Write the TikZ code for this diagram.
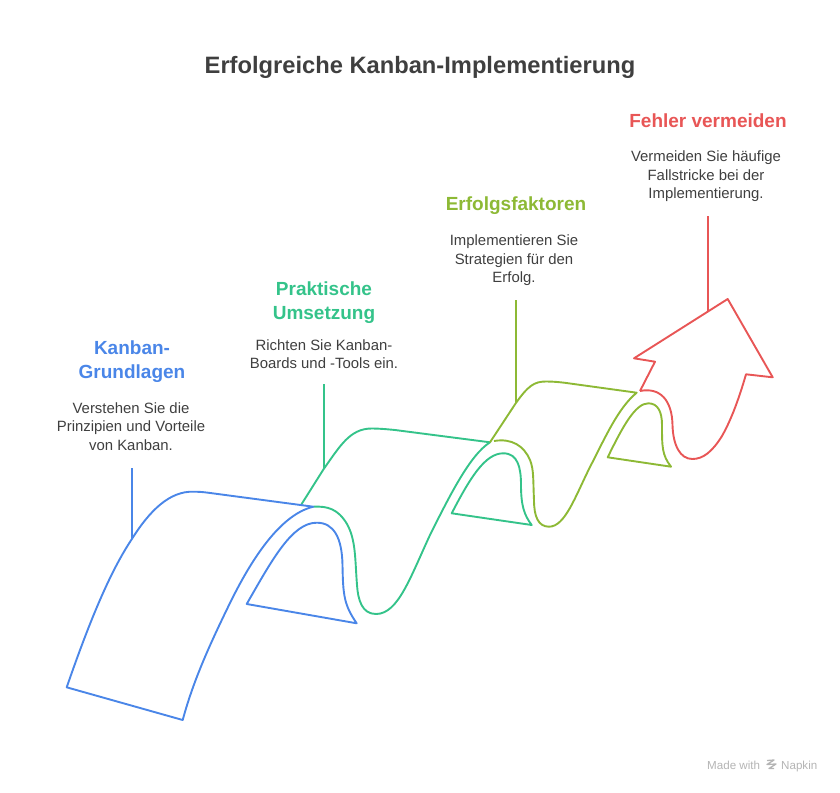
\documentclass[tikz,border=0pt]{standalone}
\usepackage{fontspec}
\setmainfont{Liberation Sans}
\definecolor{KanbanBlue}{HTML}{4A86E8}
\definecolor{PraxisGreen}{HTML}{34C38A}
\definecolor{ErfolgOlive}{HTML}{8DB935}
\definecolor{FehlerRed}{HTML}{E85656}
\definecolor{BodyGrey}{HTML}{3F3F3F}
\definecolor{MarkGrey}{HTML}{B4B4B4}
\begin{document}
\begin{tikzpicture}[x=1pt,y=-1pt,line join=round,
  ribbon/.style={line width=1.9pt},
  heading/.style={align=center,font=\fontsize{19}{24}\selectfont\bfseries,inner sep=0pt},
  blurb/.style={align=center,text=BodyGrey,font=\fontsize{14.9}{18.4}\selectfont,inner sep=0pt}]
\useasboundingbox (0,0) rectangle (840,792);
\node[inner sep=0pt,text=BodyGrey,font=\fontsize{23.7}{28}\selectfont\bfseries] (title) at (420,67) {Erfolgreiche Kanban-Implementierung};
%
\node[heading,text=KanbanBlue] (kanbanhead) at (132,362) {Kanban-\\Grundlagen};
\node[blurb] (kanbantext) at (131,426.5) {Verstehen Sie die\\Prinzipien und Vorteile\\von Kanban.};
\node[heading,text=PraxisGreen] (praxishead) at (324,302.5) {Praktische\\Umsetzung};
\node[blurb] (praxistext) at (324,354) {Richten Sie Kanban-\\Boards und -Tools ein.};
\node[heading,text=ErfolgOlive] (erfolghead) at (516,206) {Erfolgsfaktoren};
\node[blurb] (erfolgtext) at (514,260.5) {Implementieren Sie\\Strategien für den\\Erfolg.};
\node[heading,text=FehlerRed] (fehlerhead) at (708,121) {Fehler vermeiden};
\node[blurb] (fehlertext) at (706,176.5) {Vermeiden Sie häufige\\Fallstricke bei der\\Implementierung.};
%
\coordinate (kanbantop) at (131.7,468);
\coordinate (kanbanfoot) at (131.7,539.3);
\coordinate (praxistop) at (323.7,384);
\coordinate (praxisfoot) at (323.7,469);
\coordinate (erfolgtop) at (516,300);
\coordinate (erfolgfoot) at (516,403.3);
\coordinate (fehlertop) at (708,216);
\coordinate (fehlerfoot) at (708,310.5);
%
\draw[ribbon,KanbanBlue] (kanbantop) -- (kanbanfoot);
\draw[ribbon,PraxisGreen] (praxistop) -- (praxisfoot);
\draw[ribbon,ErfolgOlive] (erfolgtop) -- (erfolgfoot);
\draw[ribbon,FehlerRed] (fehlertop) -- (fehlerfoot);
%
\draw[ribbon,PraxisGreen] (300.7,505.5) -- (323.7,469) .. controls (340,446) and (350,428.5) .. (371.7,428.5) .. controls (378,428.5) and (385,429) .. (395,430) -- (490,442.3) .. controls (470,455) and (450,495) .. (430,535) .. controls (410,578) and (398,614) .. (376,614) .. controls (362,614) and (358,600) .. (357,585) .. controls (355,560) and (356,540) .. (347,524) .. controls (338,509) and (328,506) .. (313.3,506.7);
\draw[ribbon,PraxisGreen] (451.7,513.3) .. controls (470,478) and (485,453.3) .. (503.3,453.3) .. controls (518,453.3) and (521,468) .. (521,485) .. controls (521,505) and (524,515) .. (531.7,525) -- cycle;
%
\draw[ribbon,ErfolgOlive] (490,442.3) -- (515.7,403.3) .. controls (528,386) and (534,381.5) .. (546,381.5) .. controls (552,381.5) and (560,382) .. (570,383.5) -- (636.7,392.7) .. controls (618,408) and (605,438) .. (590,467) .. controls (575,497) and (565,526.7) .. (549,526.7) .. controls (538,526.7) and (534,516) .. (534,500) .. controls (533,480) and (534,470) .. (530,460) .. controls (524,446) and (512,438) .. (494,441);
\draw[ribbon,ErfolgOlive] (607.7,457.3) .. controls (622,428) and (635,403.3) .. (648.3,403.3) .. controls (658,403.3) and (662,412) .. (662,425) .. controls (662,447) and (662,455) .. (671,466.7) -- cycle;
%
\draw[ribbon,FehlerRed] (640,391) -- (655,361.7) -- (634,358.3) -- (727.7,299) -- (772.7,377.3) -- (746,374.3) .. controls (738,402) and (730,422) .. (722,436) .. controls (712,452) and (703,459) .. (692.3,459) .. controls (680,459) and (673,445) .. (672.5,425) .. controls (672,400) and (660,387) .. (640,391);
%
\draw[ribbon,KanbanBlue] (66.7,687.3) .. controls (90,620) and (110,572) .. (131.7,539.3) .. controls (150,510) and (170,491) .. (193.3,491.7) .. controls (198,491.7) and (203,492) .. (208,492.7) -- (313.3,506.7) .. controls (283,514) and (255,552) .. (230,603) .. controls (208,648) and (193,682) .. (182.7,720) -- cycle;
\draw[ribbon,KanbanBlue] (246.7,604) .. controls (272,560) and (292,522.7) .. (316.7,522.7) .. controls (334,522.7) and (342,538) .. (342.5,565) .. controls (343,595) and (344,605) .. (356.7,623.3) -- cycle;
%
\node[inner sep=0pt,anchor=base west,text=MarkGrey,font=\fontsize{11.6}{13}\selectfont] (madewith) at (707,769) {Made with};
\node[inner sep=0pt,anchor=base west,text=MarkGrey,font=\fontsize{11.6}{13}\selectfont] (napkin) at (781,769) {Napkin};
\draw[line width=1.3pt,MarkGrey] (767,760.5) -- (774,760) -- (767,764.5) -- (776,764) -- (769,768.5) -- (774,768.5);
\end{tikzpicture}
\end{document}
